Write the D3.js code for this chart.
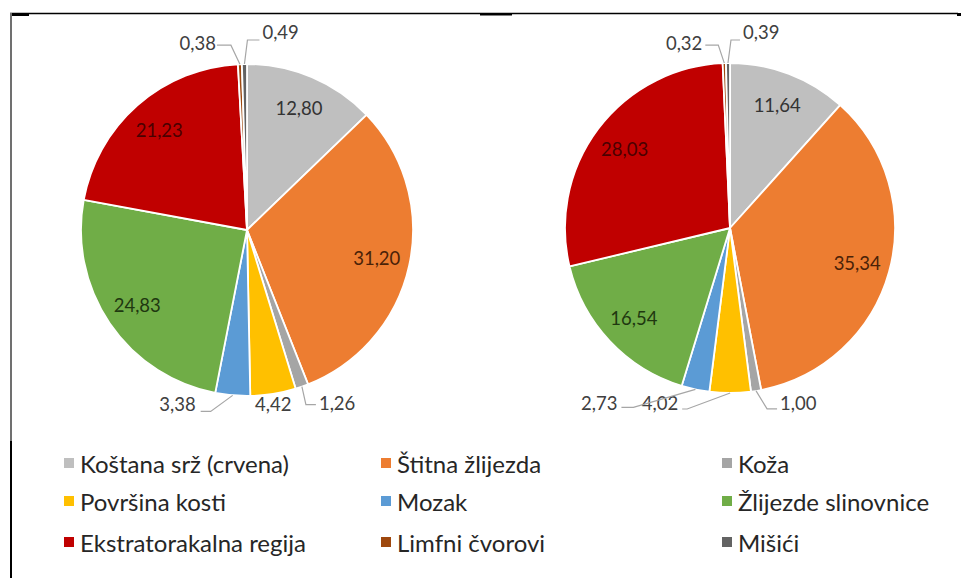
<!DOCTYPE html>
<html>
<head>
<meta charset="utf-8">
<script src="https://cdn.jsdelivr.net/npm/d3@7"></script>
<style>
  html, body { margin: 0; padding: 0; background: #fff; }
  svg { display: block; }
</style>
</head>
<body>
<svg id="chart" width="961" height="578"></svg>
<script>
// ---------------- DATA ----------------
const categories = [
  "Koštana srž (crvena)", "Štitna žlijezda", "Koža",
  "Površina kosti", "Mozak", "Žlijezde slinovnice",
  "Ekstratorakalna regija", "Limfni čvorovi", "Mišići"
];
const seriesLeft  = [12.80, 31.20, 1.26, 4.42, 3.38, 24.83, 21.23, 0.38, 0.49];
const seriesRight = [11.64, 35.34, 1.00, 4.02, 2.73, 16.54, 28.03, 0.32, 0.39];
const labelsLeft  = ["12,80", "31,20", "1,26", "4,42", "3,38", "24,83", "21,23", "0,38", "0,49"];
const labelsRight = ["11,64", "35,34", "1,00", "4,02", "2,73", "16,54", "28,03", "0,32", "0,39"];

// ---------------- STYLE ----------------
const colors = ["#BFBFBF", "#ED7D31", "#A5A5A5", "#FFC000", "#5B9BD5",
                "#70AD47", "#C00000", "#9E480E", "#636363"];
const insideTextColors = ["#333333", "#4a2208", "#1f3810", "#404040", "#404040",
                          "#1f3810", "#4a0000", "#404040", "#404040"];
insideTextColors[2] = "#404040";

// outside label layout: offsets from the slice's arc anchor (label point, elbow point)
const outsideLeft = {
  2: {lx: 17, ly: 16, ex: 4, ey: 18, hx: 14, anchor: "start"},
  3: {lx: 0, ly: 10, anchor: "middle", noLeader: true},
  4: {lx: -37, ly: 9, ex: -22, ey: 16, hx: -32, anchor: "end"},
  7: {lx: -24, ly: -21, ex: -9, ey: -19, hx: -23, anchor: "end"},
  8: {lx: 18, ly: -32, ex: 3, ey: -24, hx: 15, anchor: "start"}
};
const outsideRight = {
  2: {lx: 24, ly: 12, ex: 11, ey: 18, hx: 21, anchor: "start"},
  3: {lx: -52, ly: 10, ex: -43, ey: 16, hx: -48, anchor: "end"},
  4: {lx: -78, ly: 14, ex: -62, ey: 18, hx: -74, anchor: "end"},
  7: {lx: -22, ly: -20, ex: -6, ey: -18, hx: -19, anchor: "end"},
  8: {lx: 15, ly: -31, ex: 3, ey: -23, hx: 12, anchor: "start"}
};

const svg = d3.select("#chart");
const W = 961, H = 578;

// frame lines
svg.append("line").attr("x1", 10).attr("x2", 958).attr("y1", 13.5).attr("y2", 13.5)
  .attr("stroke", "#000").attr("stroke-width", 1.6);
svg.append("rect").attr("x", 10).attr("y", 13).attr("width", 19).attr("height", 3).attr("fill", "#000");
svg.append("rect").attr("x", 480).attr("y", 13).attr("width", 32).attr("height", 2.5).attr("fill", "#000");
svg.append("rect").attr("x", 957).attr("y", 13).attr("width", 4).attr("height", 3).attr("fill", "#000");
svg.append("line").attr("x1", 11).attr("x2", 11).attr("y1", 13).attr("y2", 441)
  .attr("stroke", "#707070").attr("stroke-width", 2);
svg.append("line").attr("x1", 11).attr("x2", 11).attr("y1", 441).attr("y2", H)
  .attr("stroke", "#000").attr("stroke-width", 2);

const pie = d3.pie().sort(null).value(d => d);

function drawPie(values, labels, cx, cy, R, outside) {
  const g = svg.append("g").attr("transform", `translate(${cx},${cy})`);
  const arcs = pie(values);
  const arc = d3.arc().innerRadius(0).outerRadius(R);
  const labelArc = d3.arc().innerRadius(R * 0.8).outerRadius(R * 0.8);
  const edgeArc = d3.arc().innerRadius(R).outerRadius(R);

  g.selectAll("path.slice").data(arcs).enter().append("path")
    .attr("class", "slice")
    .attr("d", arc)
    .attr("fill", (d, i) => colors[i])
    .attr("stroke", "#fff")
    .attr("stroke-width", 1.8)
    .attr("stroke-linejoin", "round");

  arcs.forEach((d, i) => {
    const o = outside[i];
    if (!o) {
      const [x, y] = labelArc.centroid(d);
      g.append("text")
        .attr("x", x).attr("y", y)
        .attr("text-anchor", "middle")
        .attr("dominant-baseline", "central")
        .attr("font-family", "Lato, 'Open Sans', sans-serif")
        .attr("font-size", 18.5)
        .attr("fill", insideTextColors[i])
        .text(labels[i]);
    } else {
      const [ax, ay] = edgeArc.centroid(d);
      if (!o.noLeader) {
        const pts = [[ax, ay], [ax + o.ex, ay + o.ey], [ax + o.hx, ay + o.ey]];
        g.append("path")
          .attr("d", d3.line()(pts))
          .attr("fill", "none")
          .attr("stroke", "#A6A6A6")
          .attr("stroke-width", 1.2);
      }
      g.append("text")
        .attr("x", ax + o.lx).attr("y", ay + o.ly)
        .attr("text-anchor", o.anchor)
        .attr("dominant-baseline", "central")
        .attr("font-family", "Lato, 'Open Sans', sans-serif")
        .attr("font-size", 18.5)
        .attr("fill", "#404040")
        .text(labels[i]);
    }
  });
}

drawPie(seriesLeft, labelsLeft, 247, 230, 166, outsideLeft);
drawPie(seriesRight, labelsRight, 730, 228, 165, outsideRight);

// legend
const legendCols = [64, 381, 722];
const legendRows = [463, 501, 542];
const lg = svg.append("g");
categories.forEach((c, i) => {
  const x = legendCols[i % 3], y = legendRows[Math.floor(i / 3)];
  lg.append("rect").attr("x", x).attr("y", y - 5).attr("width", 10).attr("height", 10)
    .attr("fill", colors[i]);
  lg.append("text").attr("x", x + 16).attr("y", y)
    .attr("dominant-baseline", "central")
    .attr("font-family", "Lato, 'Open Sans', sans-serif")
    .attr("font-size", 24)
    .attr("fill", "#262626")
    .text(c);
});
</script>
</body>
</html>
